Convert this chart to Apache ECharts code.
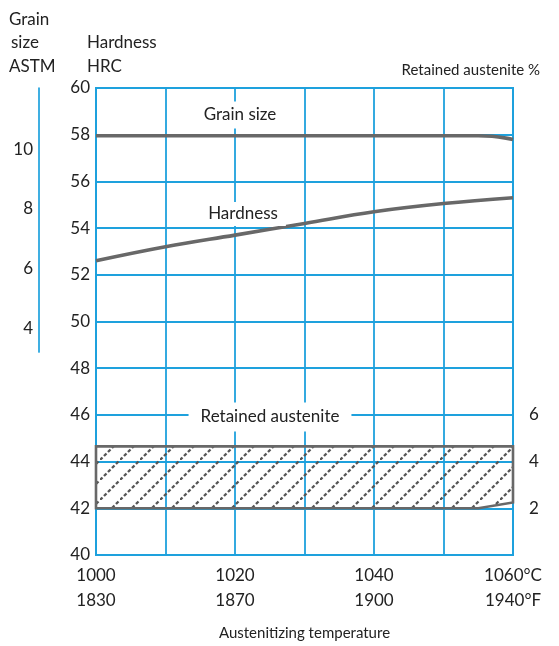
<!DOCTYPE html>
<html><head><meta charset="utf-8">
<script src="https://cdn.jsdelivr.net/npm/echarts@6.0.0/dist/echarts.min.js"></script>
<style>html,body{margin:0;padding:0;background:#fff}#c{width:559px;height:646px}</style>
</head><body><div id="c"></div>
<script>
// ---- data ----
const hardTemp = [1000, 1010, 1020, 1030, 1040, 1050, 1060];
const hardness = [52.6, 53.2, 53.7, 54.2, 54.7, 55.05, 55.3];
const grainTemp = [1000, 1020, 1040, 1050, 1055, 1057, 1059, 1060];
const grainSize = [10.45, 10.45, 10.45, 10.45, 10.45, 10.43, 10.37, 10.32];
const raTemp = [1000, 1020, 1040, 1055, 1060];
const raUpper = [4.65, 4.65, 4.65, 4.65, 4.65];
const raLower = [2, 2, 2, 2, 2.25];
const tempTicksC = [1000, 1020, 1040, 1060];
const tempTicksF = [1830, 1870, 1900, 1940];
const hrcTicks = [40, 42, 44, 46, 48, 50, 52, 54, 56, 58, 60];
const grainTicks = [4, 6, 8, 10];
const raTicks = [2, 4, 6];

const BLUE = '#1ea1dd';
const GRAY = '#686868';
const TXT = '#222';
const FONT = 'Lato, "Open Sans", sans-serif';

function hatch() {
  const s = 20, c = document.createElement('canvas');
  c.width = s; c.height = s;
  const g = c.getContext('2d');
  g.strokeStyle = '#555';
  g.lineWidth = 2.3;
  const per = Math.sqrt(2) * s / 5;
  g.setLineDash([per * 0.62, per * 0.38]);
  g.beginPath(); g.moveTo(0, s); g.lineTo(s, 0); g.stroke();
  return c;
}
const pat = hatch();

const chart = echarts.init(document.getElementById('c'));
const txt = (text, x, y, extra) => Object.assign({
  type: 'text', x, y, z: 100,
  style: Object.assign({ text, fill: TXT, font: '17px ' + FONT, align: 'left', verticalAlign: 'middle' }, extra || {})
});

chart.setOption({
  animation: false,
  backgroundColor: '#fff',
  textStyle: { fontFamily: FONT },
  grid: [
    { left: 96, right: 46, top: 88, bottom: 89, show: true, borderColor: BLUE, borderWidth: 2, backgroundColor: 'transparent' },
    { left: 96, right: 46, top: 88, height: 264 }
  ],
  xAxis: [
    {
      gridIndex: 0, type: 'value', min: 1000, max: 1060, interval: 10,
      axisLine: { show: false }, axisTick: { show: false },
      splitLine: { show: true, lineStyle: { color: BLUE, width: 1.8 } },
      axisLabel: {
        customValues: tempTicksC, color: TXT, fontSize: 17, lineHeight: 25, margin: 8,
        formatter: v => {
          const i = tempTicksC.indexOf(v);
          return i === tempTicksC.length - 1 ? v + '°C\n' + tempTicksF[i] + '°F' : v + '\n' + tempTicksF[i];
        }
      },
      name: 'Austenitizing temperature', nameLocation: 'middle', nameGap: 71,
      nameTextStyle: { color: TXT, fontSize: 15 }
    },
    { gridIndex: 1, type: 'value', min: 1000, max: 1060, show: false }
  ],
  yAxis: [
    {
      gridIndex: 0, type: 'value', min: 40, max: 60, interval: 2,
      axisLine: { show: false }, axisTick: { show: false },
      splitLine: { show: true, lineStyle: { color: BLUE, width: 1.8 } },
      axisLabel: { customValues: hrcTicks, color: TXT, fontSize: 17, margin: 6 }
    },
    {
      gridIndex: 0, type: 'value', position: 'right', min: 0, max: 20,
      axisLine: { show: false }, axisTick: { show: false }, splitLine: { show: false },
      axisLabel: { customValues: raTicks, color: TXT, fontSize: 17, margin: 16 }
    },
    {
      gridIndex: 1, type: 'value', position: 'left', offset: 57, min: 3.2, max: 12.05,
      axisLine: { show: true, lineStyle: { color: BLUE, width: 1.7 } },
      axisTick: { show: false }, splitLine: { show: false },
      axisLabel: { customValues: grainTicks, color: TXT, fontSize: 17, margin: 6 }
    }
  ],
  series: [
    {
      name: 'Retained austenite', type: 'custom', xAxisIndex: 0, yAxisIndex: 1, silent: true, z: 3,
      data: raTemp.map((t, i) => [t, raUpper[i], raLower[i]]),
      encode: { x: 0, y: [1, 2] },
      renderItem: (params, api) => {
        if (params.dataIndex !== 0) return null;
        const pts = [];
        raTemp.forEach((t, i) => pts.push(api.coord([t, raUpper[i]])));
        for (let i = raTemp.length - 1; i >= 0; i--) pts.push(api.coord([raTemp[i], raLower[i]]));
        return {
          type: 'polygon', shape: { points: pts },
          style: { fill: { image: pat, repeat: 'repeat' }, stroke: GRAY, lineWidth: 2.6 }
        };
      }
    },
    {
      name: 'Hardness', type: 'line', xAxisIndex: 0, yAxisIndex: 0, smooth: 0.4, symbol: 'none', z: 5,
      data: hardTemp.map((t, i) => [t, hardness[i]]),
      lineStyle: { color: GRAY, width: 3.6 }
    },
    {
      name: 'Grain size', type: 'line', xAxisIndex: 1, yAxisIndex: 2, smooth: 0.3, symbol: 'none', z: 5,
      data: grainTemp.map((t, i) => [t, grainSize[i]]),
      lineStyle: { color: GRAY, width: 3.6 }
    }
  ],
  graphic: [
    txt('Grain', 9, 19.5),
    txt('size', 11, 43),
    txt('ASTM', 9, 66.5),
    txt('Hardness', 87, 43),
    txt('HRC', 87, 66.5),
    txt('Retained austenite %', 540, 70, { align: 'right', font: '15px ' + FONT }),
    txt('Grain size', 240, 115, { align: 'center', backgroundColor: '#fff', padding: [5, 8] }),
    txt('Hardness', 243, 214, { align: 'center', backgroundColor: '#fff', padding: [5, 8, 2, 8] }),
    txt('Retained austenite', 270, 417, { align: 'center', backgroundColor: '#fff', padding: [6, 12] })
  ]
});
</script>
</body></html>
